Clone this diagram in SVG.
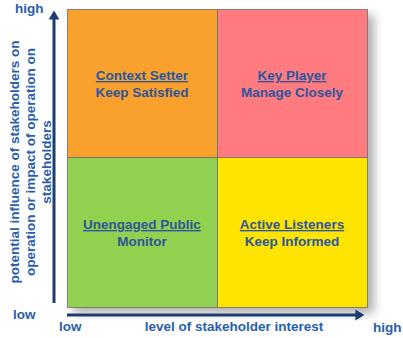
<svg xmlns="http://www.w3.org/2000/svg" width="403" height="338" viewBox="0 0 403 338">
<style>
.q{stroke:#6f6f6f;stroke-width:0.8}
.t{font-family:"Liberation Sans",Arial,sans-serif;font-weight:bold;font-size:13.5px;fill:#2a56a0;text-anchor:middle}
.u{text-decoration:underline}
.ax{font-family:"Liberation Sans",Arial,sans-serif;font-weight:bold;font-size:13.5px;fill:#2a5eaa}
.arr{stroke:#1f3d72;stroke-width:3;fill:none}
</style>
<defs>
<filter id="sh" x="-10%" y="-10%" width="130%" height="130%"><feGaussianBlur stdDeviation="5"/></filter>
<marker id="ah" markerWidth="4" markerHeight="4" refX="2.2" refY="2" orient="auto" markerUnits="strokeWidth"><path d="M0,0.2 L3,2 L0,3.8 Z" fill="#1f3d72"/></marker>
</defs>
<rect x="0" y="0" width="403" height="338" fill="#ffffff"/>
<rect x="73" y="15" width="301" height="298" fill="#9a9a9a" filter="url(#sh)" opacity="0.8"/>
<g id="context-setter">
<rect class="q" x="67.5" y="9.5" width="150" height="148" fill="#f9a12c"/>
<text class="t u" x="142" y="80">Context Setter</text>
<text class="t" x="142" y="97">Keep Satisfied</text>
</g>
<g id="key-player">
<rect class="q" x="217.5" y="9.5" width="150" height="148" fill="#ff7b7f"/>
<text class="t u" x="292" y="80">Key Player</text>
<text class="t" x="292" y="97">Manage Closely</text>
</g>
<g id="unengaged-public">
<rect class="q" x="67.5" y="157.5" width="150" height="150" fill="#92d050"/>
<text class="t u" x="142" y="229">Unengaged Public</text>
<text class="t" x="142" y="246">Monitor</text>
</g>
<g id="active-listeners">
<rect class="q" x="217.5" y="157.5" width="150" height="150" fill="#ffe400"/>
<text class="t u" x="292" y="229">Active Listeners</text>
<text class="t" x="292" y="246">Keep Informed</text>
</g>
<g id="connectors">
<line class="arr" x1="54" y1="303" x2="54" y2="13" marker-end="url(#ah)"/>
<line class="arr" x1="67" y1="315" x2="362" y2="315" marker-end="url(#ah)"/>
</g>
<g id="axis-labels">
<text class="ax" x="15" y="13">high</text>
<text class="ax" x="13" y="319">low</text>
<text class="ax" x="59" y="331">low</text>
<text class="ax" x="234" y="331" text-anchor="middle">level of stakeholder interest</text>
<text class="ax" x="373" y="332">high</text>
<g transform="translate(35,162) rotate(-90)">
<text class="ax" x="0" y="-16" text-anchor="middle">potential influence of stakeholders on</text>
<text class="ax" x="0" y="0" text-anchor="middle">operation or impact of operation on</text>
<text class="ax" x="0" y="16" text-anchor="middle">stakeholders</text>
</g>
</g>
</svg>
